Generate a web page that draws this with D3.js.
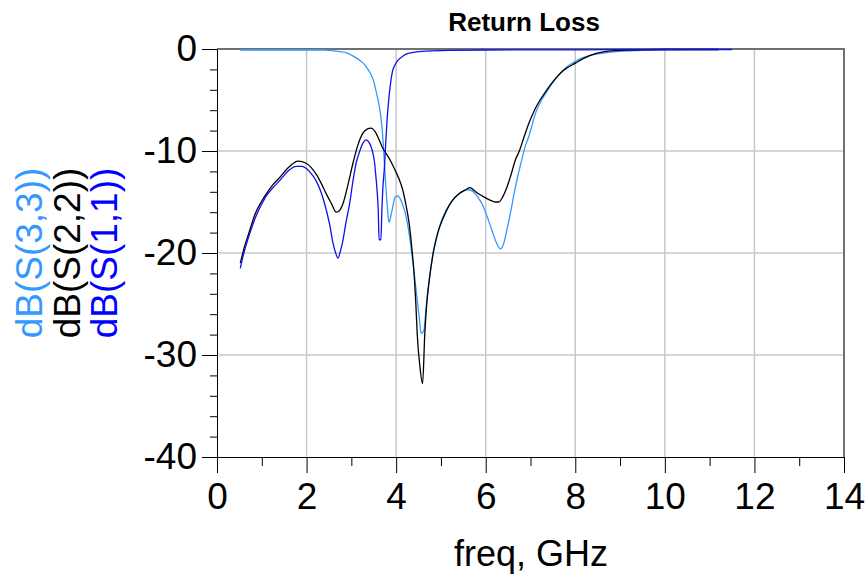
<!DOCTYPE html>
<html>
<head>
<meta charset="utf-8">
<script src="https://cdn.jsdelivr.net/npm/d3@7"></script>
<style>
  body { margin: 0; background: #fff; }
  svg { font-family: "Liberation Sans", Arial, sans-serif; }
</style>
</head>
<body>
<div id="chart"></div>
<script>
// values (freq in GHz, level in dB)
var s33Freq = [0.52, 1.0, 1.5, 2.0, 2.4, 2.58, 2.75, 2.88, 3.0, 3.1, 3.2, 3.29, 3.37, 3.44, 3.5, 3.55, 3.61, 3.66, 3.7, 3.73,
  3.77, 3.81, 3.84, 3.88, 3.92, 3.97, 4.03, 4.08, 4.14, 4.21, 4.28, 4.36, 4.42, 4.47, 4.52, 4.56, 4.62, 4.66, 4.7, 4.76,
  4.81, 4.9, 4.99, 5.12, 5.25, 5.38, 5.51, 5.62, 5.77, 5.85, 5.92, 6.03, 6.14, 6.23, 6.33, 6.4, 6.47, 6.56, 6.66, 6.78,
  6.9, 6.96, 7.12, 7.25, 7.42, 7.6, 7.8, 8.0, 8.17, 8.35, 8.54, 8.8, 9.07, 9.5, 10.0, 11.2];
var s33dB = [-0.1, -0.1, -0.1, -0.1, -0.1, -0.15, -0.25, -0.35, -0.6, -0.85, -1.15, -1.5, -2.0, -2.5, -3.2, -4.1, -5.3, -6.7, -8.5, -10.6,
  -13.5, -15.8, -17.0, -16.4, -15.6, -14.6, -14.4, -14.6, -15.2, -16.2, -17.8, -20.4, -22.6, -24.6, -26.5, -27.9, -27.6, -25.8, -24.0, -22.0,
  -20.4, -18.6, -17.1, -15.8, -14.9, -14.3, -13.9, -13.8, -14.2, -14.7, -15.2, -16.4, -17.8, -18.9, -19.6, -19.1, -17.8, -15.9, -13.6, -11.3,
  -9.3, -8.6, -6.2, -5.0, -3.8, -2.7, -1.8, -1.2, -0.85, -0.6, -0.45, -0.3, -0.2, -0.12, -0.08, -0.05];

var s22Freq = [0.52, 0.6, 0.73, 0.84, 1.0, 1.1, 1.25, 1.4, 1.6, 1.81, 1.99, 2.1, 2.21, 2.32, 2.44, 2.56, 2.66, 2.72, 2.81, 2.92,
  3.03, 3.14, 3.25, 3.35, 3.44, 3.53, 3.62, 3.7, 3.77, 3.88, 3.99, 4.07, 4.14, 4.22, 4.29, 4.35, 4.4, 4.44, 4.47, 4.53,
  4.59, 4.64, 4.68, 4.73, 4.84, 4.93, 5.03, 5.14, 5.25, 5.4, 5.55, 5.65, 5.75, 5.84, 6.0, 6.14, 6.22, 6.29, 6.38, 6.47,
  6.56, 6.66, 6.75, 6.85, 6.97, 7.1, 7.2, 7.35, 7.5, 7.72, 8.02, 8.2, 8.4, 8.6, 8.8, 9.2, 10.0, 11.2];
var s22dB = [-21.0, -19.6, -17.8, -16.3, -14.9, -14.2, -13.3, -12.6, -11.6, -11.0, -11.2, -11.6, -12.25, -13.1, -14.2, -15.2, -16.0, -15.9, -15.2, -13.4,
  -11.3, -9.5, -8.3, -7.85, -7.75, -8.1, -8.9, -9.7, -10.2, -11.0, -12.0, -12.8, -13.7, -15.3, -17.1, -19.5, -22.0, -25.0, -27.9, -31.1,
  -32.8, -27.9, -25.2, -23.0, -19.7, -18.0, -16.8, -15.7, -14.9, -14.2, -13.8, -13.6, -13.9, -14.2, -14.6, -14.9, -15.0, -15.0, -14.5, -13.6,
  -12.4, -10.9, -10.0, -8.7, -7.2, -5.9, -5.1, -4.1, -3.2, -2.15, -1.34, -0.9, -0.52, -0.3, -0.18, -0.1, -0.05, -0.05];

var s11Freq = [0.52, 0.6, 0.73, 0.88, 1.0, 1.1, 1.25, 1.4, 1.6, 1.77, 1.9, 1.99, 2.1, 2.21, 2.32, 2.44, 2.52, 2.58, 2.65, 2.7,
  2.75, 2.81, 2.88, 2.96, 3.03, 3.1, 3.18, 3.25, 3.33, 3.4, 3.47, 3.52, 3.55, 3.58, 3.6, 3.62, 3.66, 3.68, 3.7, 3.74,
  3.77, 3.8, 3.84, 3.88, 3.92, 3.97, 4.03, 4.12, 4.21, 4.35, 4.51, 5.18, 6.0, 8.0, 10.0, 11.5];
var s11dB = [-21.5, -20.0, -18.1, -16.3, -15.2, -14.4, -13.6, -12.9, -11.9, -11.5, -11.5, -11.7, -12.2, -12.9, -14.0, -15.8, -17.3, -18.8, -20.0, -20.5,
  -19.9, -18.8, -17.0, -15.2, -13.1, -11.3, -10.1, -9.3, -8.9, -9.2, -10.0, -11.2, -12.6, -14.2, -15.8, -18.7, -18.7, -16.0, -13.9, -11.5,
  -9.0, -6.8, -4.75, -3.2, -2.15, -1.6, -1.17, -0.8, -0.52, -0.35, -0.26, -0.13, -0.1, -0.08, -0.05, -0.05];

var xTicks = [0, 2, 4, 6, 8, 10, 12, 14];
var xMinorTicks = [1, 3, 5, 7, 9, 11, 13];
var yTicks = [-40, -30, -20, -10, 0];
var yMinorTicks = [-38, -36, -34, -32, -28, -26, -24, -22, -18, -16, -14, -12, -8, -6, -4, -2];

var seriesNames = ["dB(S(3,3))", "dB(S(2,2))", "dB(S(1,1))"];
var seriesColors = ["#3399ff", "#000000", "#1010ee"];
var legendColors = ["#3399ff", "#000000", "#0000ff"];

var W = 868, H = 577;
var margin = { top: 49, right: 24, bottom: 120, left: 217 },
    width = W - margin.left - margin.right,
    height = H - margin.top - margin.bottom;

var svg = d3.select("#chart").append("svg")
    .attr("width", W)
    .attr("height", H);

var g = svg.append("g")
    .attr("transform", "translate(" + margin.left + "," + margin.top + ")");

var x = d3.scaleLinear().domain([0, 14]).range([0, width]);
var y = d3.scaleLinear().domain([-40, 0]).range([height, 0]);

// grid
g.selectAll(".vgrid")
    .data(xTicks.slice(1, -1))
    .enter().append("line")
    .attr("x1", function(d) { return x(d); })
    .attr("x2", function(d) { return x(d); })
    .attr("y1", 0).attr("y2", height)
    .style("stroke", "#c8c8c8").style("stroke-width", 1.5);

g.selectAll(".hgrid")
    .data(yTicks.slice(1, -1))
    .enter().append("line")
    .attr("x1", 0).attr("x2", width)
    .attr("y1", function(d) { return y(d); })
    .attr("y2", function(d) { return y(d); })
    .style("stroke", "#c8c8c8").style("stroke-width", 1.5);

// frame on top and right
g.append("path")
    .attr("d", "M0," + y(0) + "H" + width + "V" + height)
    .style("fill", "none")
    .style("stroke", "#707070")
    .style("stroke-width", 2);

// curves
var line = d3.line()
    .x(function(d) { return x(d[0]); })
    .y(function(d) { return y(d[1]); })
    .curve(d3.curveMonotoneX);

var seriesData = [
    d3.zip(s33Freq, s33dB),
    d3.zip(s22Freq, s22dB),
    d3.zip(s11Freq, s11dB)
];

g.selectAll(".curve")
    .data(seriesData)
    .enter().append("path")
    .attr("class", "curve")
    .attr("d", line)
    .style("fill", "none")
    .style("stroke", function(d, i) { return seriesColors[i]; })
    .style("stroke-width", 1.3);

// axes (plain hyphen for negatives, like the original)
var plain = function(d) { return String(d); };

var yAxis = g.append("g")
    .call(d3.axisLeft(y).tickValues(yTicks).tickFormat(plain).tickSize(15).tickSizeOuter(0).tickPadding(5));
g.append("g")
    .call(d3.axisLeft(y).tickValues(yMinorTicks).tickSize(7).tickFormat("").tickSizeOuter(0))
    .select(".domain").remove();

var xAxis = g.append("g")
    .attr("transform", "translate(0," + height + ")")
    .call(d3.axisBottom(x).tickValues(xTicks).tickFormat(plain).tickSize(16).tickSizeOuter(0).tickPadding(10));
g.append("g")
    .attr("transform", "translate(0," + height + ")")
    .call(d3.axisBottom(x).tickValues(xMinorTicks).tickSize(9).tickFormat("").tickSizeOuter(0))
    .select(".domain").remove();

g.selectAll(".tick line").style("stroke", "#000");
g.selectAll(".domain").style("stroke", "#000");
yAxis.selectAll("text").style("font-size", "37px").style("fill", "#000")
    .attr("font-family", null);
xAxis.selectAll("text").style("font-size", "37px").style("fill", "#000")
    .attr("font-family", null);

// title and axis label
svg.append("text")
    .attr("x", 524).attr("y", 31)
    .attr("text-anchor", "middle")
    .style("font-weight", "bold")
    .style("font-size", "26px")
    .text("Return Loss");

svg.append("text")
    .attr("x", 531).attr("y", 566)
    .attr("text-anchor", "middle")
    .style("font-size", "36px")
    .text("freq, GHz");

// rotated legend on the left
var legendX = [41.7, 80, 116.7];
svg.selectAll(".legend")
    .data(seriesNames)
    .enter().append("text")
    .attr("transform", function(d, i) { return "translate(" + legendX[i] + ",253) rotate(-90)"; })
    .attr("text-anchor", "middle")
    .style("font-size", "37px")
    .style("fill", function(d, i) { return legendColors[i]; })
    .text(function(d) { return d; });
</script>
</body>
</html>
